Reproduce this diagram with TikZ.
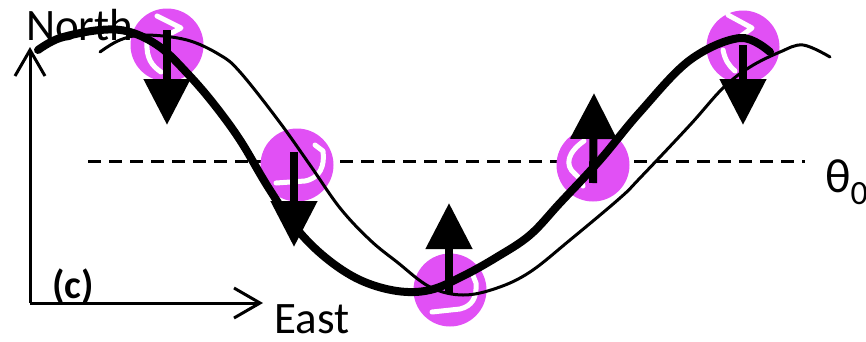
\documentclass[tikz,border=0pt]{standalone}
\usepackage{fontspec}
\setmainfont{Carlito}
\usetikzlibrary{arrows.meta}
\definecolor{spinmag}{RGB}{225,80,245}
\tikzset{
  ball/.style={circle, fill=spinmag, minimum size=73pt, inner sep=0pt},
  swirl/.style={white, line width=5pt, line cap=round, line join=round},
  spinarrow/.style={line width=8pt, -{Triangle[width=45pt,length=46pt]}},
  axisline/.style={line width=3pt, -{Straight Barb[length=26pt,width=30pt]}},
  thickpath/.style={line width=8pt, line cap=round},
  thinpath/.style={line width=3pt, line cap=round},
  axlabel/.style={inner sep=0pt, font=\fontsize{45}{52}\selectfont},
  refline/.style={line width=3pt, dash pattern=on 13pt off 8pt}
}
\begin{document}
\begin{tikzpicture}[x=1pt,y=-1pt]
\useasboundingbox (0,0) rectangle (866,341);

% reference level
\coordinate (R0) at (88,161);
\coordinate (R1) at (805,161);
\draw[refline] (R0) -- (R1);
\node[axlabel, anchor=base west, font=\fontsize{48}{52}\selectfont] (theta) at (825,192)
  {θ\raisebox{-12pt}{\fontsize{34}{34}\selectfont 0}};

% axes
\coordinate (O) at (30,303);
\coordinate (N) at (30,47);
\coordinate (E) at (263,303);
\draw[axisline] (O) -- (N);
\draw[axisline] (O) -- (E);
\node[axlabel, anchor=base west] (north) at (26,40) {North};
\node[axlabel, anchor=base west] (east) at (274,333) {East};
\node[axlabel, anchor=base west, font=\fontsize{40}{48}\selectfont\bfseries] (tag) at (52,298) {(c)};

% vortices
\node[ball] (c1) at (167,45) {};
\node[ball] (c2) at (297,165) {};
\node[ball] (c3) at (450,290) {};
\node[ball] (c4) at (593,165) {};
\node[ball] (c5) at (743,47) {};

\draw[swirl] (157,16) -- (181,28) -- (166,36);
\draw[swirl] (147,42) .. controls (146,58) and (152,66) .. (161,72);
\draw[swirl] (315,145) -- (323,151) .. controls (325,166) and (320,178) .. (305,181) -- (276,183);
\draw[swirl] (472,273) -- (476,283) .. controls (477,298) and (472,306) .. (460,309) -- (432,312);
\draw[swirl] (584,141) .. controls (568,152) and (564,165) .. (575,174) .. controls (580,178) and (582,182) .. (583,186);
\draw[swirl] (728,15) -- (752,28) -- (741,36);
\draw[swirl] (723,50) .. controls (725,60) and (729,66) .. (735,71);

% thin wave
\draw[thinpath] plot[smooth, tension=0.6] coordinates {
  (100,52) (120,40) (145,35) (187,40) (220,55) (240,72) (278,120)
  (310,165) (340,208) (370,240) (397,262) (430,287) (463,295)
  (497,288) (530,272) (570,240) (620,198) (640,178) (690,125)
  (723,88) (750,67) (780,52) (803,45) (830,57)};

% thick wave
\draw[thickpath] plot[smooth, tension=0.6] coordinates {
  (38,50) (60,38) (100,30) (130,32) (160,47) (187,73) (213,103)
  (240,140) (268,187) (296,228) (326,258) (360,280) (397,291)
  (430,290) (463,276) (497,257) (530,235) (560,203) (600,160)
  (640,112) (690,60) (740,38) (770,52)};

% spin arrows
\coordinate (a1) at (167,30);  \coordinate (b1) at (167,125);
\coordinate (a2) at (294,152); \coordinate (b2) at (294,247);
\coordinate (a3) at (449,293); \coordinate (b3) at (449,203);
\coordinate (a4) at (593,183); \coordinate (b4) at (594,93);
\coordinate (a5) at (743,45);  \coordinate (b5) at (743,125);
\foreach \i in {1,...,5} \draw[spinarrow] (a\i) -- (b\i);
\end{tikzpicture}
\end{document}
